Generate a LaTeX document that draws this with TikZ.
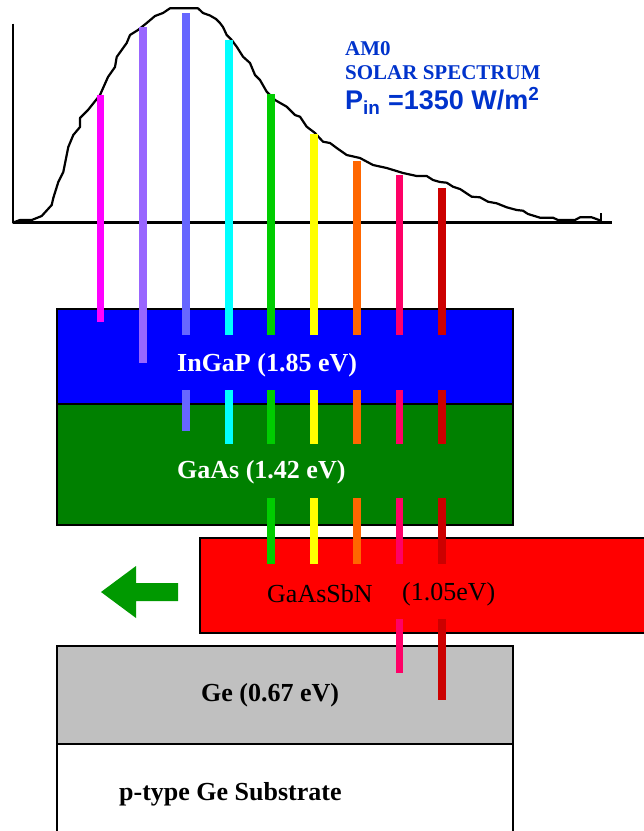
\documentclass[tikz,border=0pt]{standalone}
\usepackage{fontspec}
\setmainfont{Liberation Serif}
\newfontfamily\arialf{Liberation Sans}
\definecolor{cMag}{HTML}{FF00FF}
\definecolor{cPur}{HTML}{9966FF}
\definecolor{cVio}{HTML}{6666FF}
\definecolor{cCya}{HTML}{00FFFF}
\definecolor{cGrn}{HTML}{00CC00}
\definecolor{cYel}{HTML}{FFFF00}
\definecolor{cOra}{HTML}{FF6600}
\definecolor{cPnk}{HTML}{FF0066}
\definecolor{cDrd}{HTML}{CC0000}
\definecolor{cArr}{HTML}{009900}
\definecolor{cTxt}{HTML}{0033CC}
\definecolor{cBlue}{HTML}{0000FF}
\definecolor{cGaAs}{HTML}{008000}
\definecolor{cRed}{HTML}{FF0000}
\definecolor{cGray}{HTML}{C0C0C0}
\tikzset{
  bar/.style={line width=7.5pt, line cap=butt},
  layer/.style={draw=black, line width=2pt},
  lbl/.style={inner sep=0pt, font=\fontsize{26}{30}\selectfont\bfseries},
  lblw/.style={lbl, text=white},
  specline/.style={line width=2.2pt, line join=round},
}
\begin{document}
\begin{tikzpicture}[x=1pt,y=-1pt]
\useasboundingbox (0,0) rectangle (644,831);
\fill[white] (0,0) rectangle (644,831);
% layers
\filldraw[layer, fill=cBlue] (57,309) rectangle (513,404);
\filldraw[layer, fill=cGaAs] (57,404) rectangle (513,525);
\filldraw[layer, fill=cRed] (200,538) rectangle (660,633);
\filldraw[layer, fill=cGray] (57,646) rectangle (513,744);
\draw[layer] (57,840) -- (57,744) -- (513,744) -- (513,840);
% spectrum axes
\draw[specline] (13,23.5) -- (13,222.5) -- (612,222.5);
\draw[specline] (601,223) -- (601,213);
% spectrum curve
\draw[specline] plot coordinates {(13.3,222.5) (20,220) (31.7,220) (41.7,216) (51.7,205) (53.3,198) (58.3,182) (63.3,172) (68.3,147) (73.3,135) (80,127) (80,118) (88,110) (100,95) (108,77) (115,67) (116.7,57) (126.7,43) (130,35) (138,30) (146.7,23) (155,16) (163,13) (170,8.3) (198,8.3) (203,13) (210,15.5) (216,19) (220,23) (223,27) (226.7,35) (231.7,40) (236.7,46.7) (243,56.7) (250,63) (255,75) (260,80) (266.7,91.7) (275,100) (286.7,106.7) (295,115) (300,116.7) (306.7,126.7) (315,133) (323,141.7) (330,143) (336.7,148) (346.7,155) (360,158) (373,165) (386.7,168) (403,173) (416.7,176) (426.7,176) (433,180) (440,182) (446.7,182.7) (453,186.7) (460,189) (471.7,196.7) (480,197.3) (488,201.7) (496.7,203.3) (506.7,207.3) (516.7,210) (523,210.7) (528,214) (540,217.7) (553,217.7) (558,220) (575,220) (580,217.3) (591.7,217.3) (601,220.7)};
% bars
\draw[bar, cMag] (100.5,95) -- (100.5,322);
\draw[bar, cPur] (143,27) -- (143,363);
\draw[bar, cVio] (186,13) -- (186,335);
\draw[bar, cVio] (186,390) -- (186,431);
\draw[bar, cCya] (229,40) -- (229,335);
\draw[bar, cCya] (229,390) -- (229,444);
\foreach \xx/\yy/\cc in {271/94/cGrn, 314/134/cYel, 357/161/cOra}{
  \draw[bar, \cc] (\xx,\yy) -- (\xx,335);
  \draw[bar, \cc] (\xx,390) -- (\xx,444);
  \draw[bar, \cc] (\xx,498) -- (\xx,564);
}
\draw[bar, cPnk] (399.5,175) -- (399.5,335);
\draw[bar, cPnk] (399.5,390) -- (399.5,444);
\draw[bar, cPnk] (399.5,498) -- (399.5,564);
\draw[bar, cPnk] (399.5,619) -- (399.5,673);
\draw[bar, cDrd] (442,188) -- (442,335);
\draw[bar, cDrd] (442,390) -- (442,444);
\draw[bar, cDrd] (442,498) -- (442,564);
\draw[bar, cDrd] (442,619) -- (442,700);
% arrow
\fill[cArr] (101,592) -- (136,566) -- (136,583) -- (178,583) -- (178,601) -- (136,601) -- (136,618) -- cycle;
% labels
\node[lblw, anchor=west] (ingap) at (177,365.5) {InGaP (1.85 eV)};
\node[lblw, anchor=west] (gaas) at (177,472.5) {GaAs (1.42 eV)};
\node[inner sep=0pt, anchor=west, font=\fontsize{26}{30}\selectfont] (sbn) at (267,594) {GaAsSbN};
\node[inner sep=0pt, anchor=west, font=\fontsize{26}{30}\selectfont] (sbnev) at (402,594) {(1.05eV)};
\node[lbl, anchor=west] (ge) at (201,695.5) {Ge (0.67 eV)};
\node[lbl, anchor=west] (sub) at (119,794) {p-type Ge Substrate};
% spectrum text
\node[inner sep=0pt, anchor=west, text=cTxt, font=\fontsize{21}{24}\selectfont\bfseries] (am0) at (345,48.5) {AM0};
\node[inner sep=0pt, anchor=west, text=cTxt, font=\fontsize{21}{24}\selectfont\bfseries] (solar) at (345,72.5) {SOLAR SPECTRUM};
\node[inner sep=0pt, anchor=west, text=cTxt, font=\arialf\fontsize{27}{30}\selectfont\bfseries] (pin) at (345,101) {P\textsubscript{in} =1350 W/m\textsuperscript{2}};
\end{tikzpicture}
\end{document}
